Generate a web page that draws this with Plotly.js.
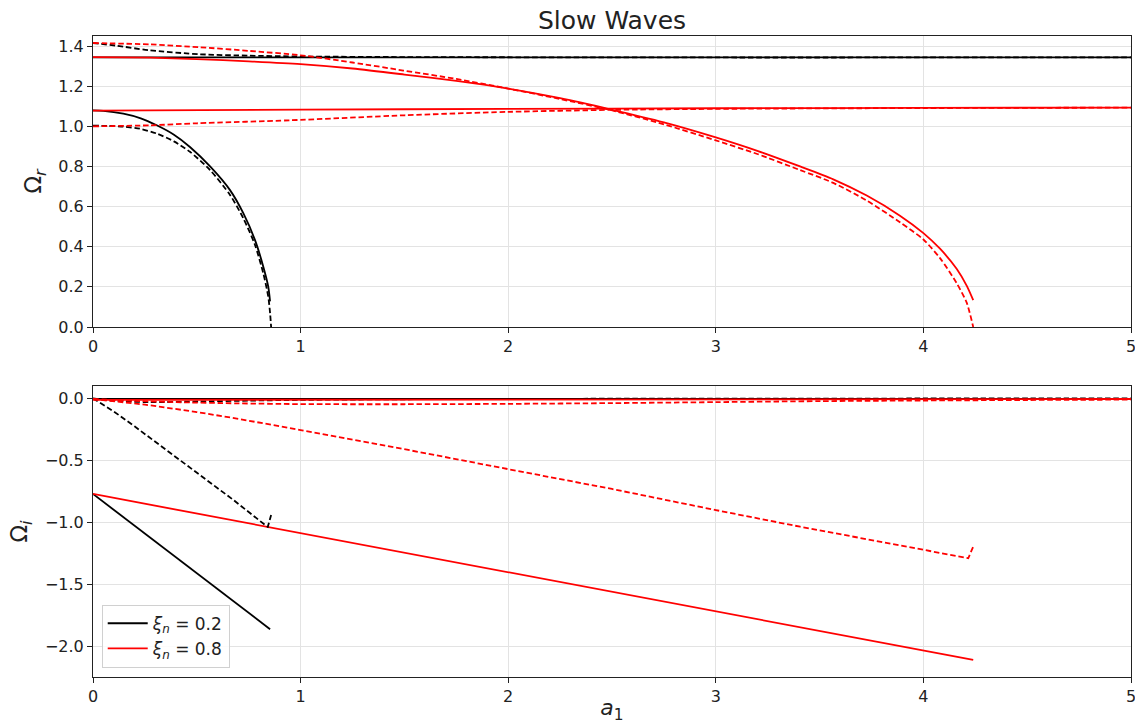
<!DOCTYPE html>
<html>
<head>
<meta charset="utf-8">
<script src="https://cdn.plot.ly/plotly-3.0.1.min.js"></script>
<style>html,body{margin:0;padding:0;background:#fff;}#chart{width:1135px;height:724px;}</style>
</head>
<body>
<div id="chart"></div>
<script>
// ---------- data ----------
// xi_n = 0.2 (black)
const aB1 = [0, 0.05, 0.146, 0.23, 0.307, 0.39, 0.467, 0.564, 0.66, 0.724, 0.78, 0.82, 0.844, 0.853];
const orB1 = [1.079, 1.077, 1.063, 1.04, 1.005, 0.958, 0.897, 0.80, 0.682, 0.567, 0.434, 0.302, 0.202, 0.128];
const aB1i = [0, 0.2, 0.4, 0.6, 0.8, 0.853];
const oiB1 = [-0.77, -1.025, -1.278, -1.535, -1.79, -1.86];

const aB2 = [0, 1, 2, 3, 4, 5];
const orB2 = [1.343, 1.343, 1.343, 1.343, 1.343, 1.343];
const oiB2 = [-0.004, -0.004, -0.004, -0.004, -0.004, -0.004];

const aB3 = [0, 0.07, 0.146, 0.226, 0.307, 0.39, 0.467, 0.564, 0.66, 0.724, 0.78, 0.82, 0.844, 0.853, 0.858];
const orB3 = [1.003, 1.002, 0.998, 0.988, 0.964, 0.925, 0.873, 0.782, 0.658, 0.542, 0.41, 0.269, 0.153, 0.07, 0.0];
const aB3i = [0, 0.1, 0.2, 0.355, 0.515, 0.676, 0.829, 0.842, 0.858];
const oiB3 = [0, -0.105, -0.225, -0.42, -0.618, -0.818, -1.02, -1.035, -0.94];

const aB4 = [0, 0.112, 0.27, 0.515, 0.75, 1.0, 1.5, 2, 3, 4, 5];
const orB4 = [1.415, 1.402, 1.379, 1.359, 1.352, 1.348, 1.345, 1.344, 1.343, 1.343, 1.343];
const oiB4 = [0, -0.02, -0.03, -0.025, -0.018, -0.012, -0.007, -0.004, -0.002, -0.001, -0.001];

// xi_n = 0.8 (red)
const aR1 = [0, 0.275, 0.5, 0.75, 1.0, 1.25, 1.5, 1.75, 2.0, 2.25, 2.49, 2.75, 3.0, 3.2, 3.406, 3.566, 3.727, 3.887, 4.0, 4.08, 4.16, 4.209, 4.24];
const orR1 = [1.345, 1.342, 1.335, 1.324, 1.31, 1.288, 1.258, 1.226, 1.188, 1.14, 1.085, 1.02, 0.945, 0.878, 0.800, 0.736, 0.655, 0.555, 0.468, 0.39, 0.29, 0.205, 0.134];
const aR1i = [0, 1, 2, 3, 4, 4.24];
const oiR1 = [-0.77, -1.085, -1.40, -1.716, -2.032, -2.107];

const aR2 = [0, 1, 2, 3, 4, 5];
const orR2 = [1.078, 1.083, 1.087, 1.09, 1.092, 1.093];
const oiR2 = [-0.012, -0.01, -0.008, -0.007, -0.006, -0.005];

const aR3 = [0, 0.275, 0.515, 0.75, 1.0, 1.25, 1.495, 1.75, 2.0, 2.25, 2.49, 2.75, 3.0, 3.2, 3.406, 3.566, 3.727, 3.887, 4.0, 4.08, 4.16, 4.209, 4.24];
const orR3 = [1.415, 1.408, 1.394, 1.376, 1.354, 1.318, 1.278, 1.236, 1.188, 1.136, 1.082, 1.01, 0.93, 0.862, 0.782, 0.718, 0.630, 0.522, 0.436, 0.343, 0.219, 0.12, 0.0];
const aR3i = [0, 0.25, 0.5, 0.708, 1.0, 1.48, 2.0, 2.5, 3.0, 3.406, 4.0, 4.216, 4.24];
const oiR3 = [-0.005, -0.05, -0.11, -0.167, -0.255, -0.403, -0.57, -0.73, -0.9, -1.034, -1.22, -1.288, -1.195];

const aR4 = [0, 0.275, 0.5, 0.95, 1.5, 2.0, 2.5, 3.0, 4.0, 5.0];
const orR4 = [1.0, 1.005, 1.015, 1.03, 1.055, 1.072, 1.082, 1.087, 1.091, 1.093];
const aR4i = [0, 0.2, 0.4, 0.7, 1.0, 1.5, 2.0, 2.5, 3.0, 3.5, 4.0, 4.5, 5.0];
const oiR4 = [-0.005, -0.02, -0.03, -0.04, -0.046, -0.047, -0.044, -0.038, -0.03, -0.022, -0.017, -0.013, -0.01];

const legendNames = ['<i>ξ</i><sub><i>n</i></sub> = 0.2', '<i>ξ</i><sub><i>n</i></sub> = 0.8'];
const titleText = 'Slow Waves';

// ---------- traces ----------
const BLACK = '#000000', RED = '#ff0000';
const LW = 1.8, DASH = '5.5px,2.8px';
function tr(x, y, color, dashed, axis, name, show, smooth) {
  return {
    x: x, y: y, type: 'scatter', mode: 'lines',
    line: {color: color, width: LW, dash: dashed ? DASH : 'solid',
           shape: smooth ? 'spline' : 'linear', smoothing: smooth ? 0.7 : 0},
    xaxis: axis === 2 ? 'x2' : 'x', yaxis: axis === 2 ? 'y2' : 'y',
    name: name || '', showlegend: !!show, hoverinfo: 'skip'
  };
}
const data = [
  tr(aB1i, oiB1, BLACK, false, 2, legendNames[0], true),
  tr(aR1i, oiR1, RED, false, 2, legendNames[1], true),
  tr(aB2, oiB2, BLACK, false, 2),
  tr(aB3i, oiB3, BLACK, true, 2),
  tr(aB4, oiB4, BLACK, true, 2, '', false, true),
  tr(aR2, oiR2, RED, false, 2),
  tr(aR3i, oiR3, RED, true, 2),
  tr(aR4i, oiR4, RED, true, 2, '', false, true),
  tr(aB1, orB1, BLACK, false, 1, '', false, true),
  tr(aB2, orB2, BLACK, false, 1),
  tr(aB3, orB3, BLACK, true, 1, '', false, true),
  tr(aB4, orB4, BLACK, true, 1, '', false, true),
  tr(aR1, orR1, RED, false, 1, '', false, true),
  tr(aR2, orR2, RED, false, 1, '', false, true),
  tr(aR3, orR3, RED, true, 1, '', false, true),
  tr(aR4, orR4, RED, true, 1, '', false, true)
];

const FONT = 'DejaVu Sans, sans-serif';
const tickFont = {family: FONT, size: 16, color: '#222'};
const axBase = {
  showline: true, mirror: true, linecolor: '#222', linewidth: 1,
  ticks: 'outside', ticklen: 5, tickcolor: '#222', tickwidth: 1,
  showgrid: true, gridcolor: '#e3e3e3', gridwidth: 1,
  zeroline: false, tickfont: tickFont, fixedrange: true,
  automargin: false, ticklabeloverflow: 'allow'
};

const layout = {
  width: 1135, height: 724,
  margin: {l: 93, r: 4, t: 36, b: 47},
  paper_bgcolor: '#fff', plot_bgcolor: '#fff',
  font: {family: FONT, color: '#222'},
  title: {text: titleText, font: {family: FONT, size: 25, color: '#222'},
          xref: 'paper', x: 0.5, xanchor: 'center', yref: 'container', y: 1 - 20/724, yanchor: 'middle'},
  xaxis: Object.assign({}, axBase, {range: [0, 5], dtick: 1, tick0: 0, anchor: 'y', domain: [0, 1]}),
  yaxis: Object.assign({}, axBase, {range: [0, 1.45], dtick: 0.2, tick0: 0, tickformat: '.1f',
          domain: [0.546, 1], anchor: 'x',
          title: {text: 'Ω<sub><i>r</i></sub>', font: {family: FONT, size: 23, color: '#222'}, standoff: 10}}),
  xaxis2: Object.assign({}, axBase, {range: [0, 5], dtick: 1, tick0: 0, anchor: 'y2', domain: [0, 1],
          title: {text: '<i>a</i><sub>1</sub>', font: {family: FONT, size: 22, color: '#222'}, standoff: 2}}),
  yaxis2: Object.assign({}, axBase, {range: [-2.245, 0.10], dtick: 0.5, tick0: 0, tickformat: '.1f',
          domain: [0, 0.454], anchor: 'x2',
          title: {text: 'Ω<sub><i>i</i></sub>', font: {family: FONT, size: 23, color: '#222'}, standoff: 10}}),
  showlegend: true,
  legend: {x: 0.0084, y: 0.0145, xanchor: 'left', yanchor: 'bottom', xref: 'paper', yref: 'paper',
           bgcolor: 'rgba(255,255,255,0.85)', bordercolor: '#d0d0d0', borderwidth: 1,
           font: {family: FONT, size: 17, color: '#222'}, itemwidth: 40, tracegroupgap: 0}
};

Plotly.newPlot('chart', data, layout, {displayModeBar: false, staticPlot: true});
</script>
</body>
</html>
